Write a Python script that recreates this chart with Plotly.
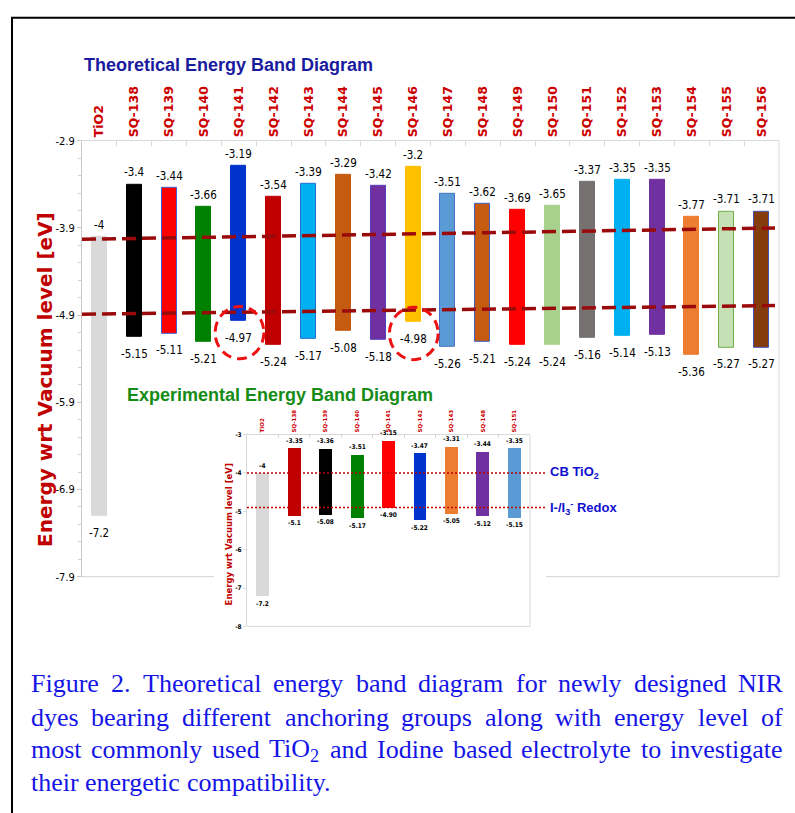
import plotly.graph_objects as go

W, H = 795, 813

# ---------------- data: theoretical (main) ----------------
categories = ["TiO2", "SQ-138", "SQ-139", "SQ-140", "SQ-141", "SQ-142", "SQ-143", "SQ-144",
              "SQ-145", "SQ-146", "SQ-147", "SQ-148", "SQ-149", "SQ-150", "SQ-151", "SQ-152",
              "SQ-153", "SQ-154", "SQ-155", "SQ-156"]
lumo = [-4, -3.4, -3.44, -3.66, -3.19, -3.54, -3.39, -3.29, -3.42, -3.2,
        -3.51, -3.62, -3.69, -3.65, -3.37, -3.35, -3.35, -3.77, -3.71, -3.71]
homo = [-7.2, -5.15, -5.11, -5.21, -4.97, -5.24, -5.17, -5.08, -5.18, -4.98,
        -5.26, -5.21, -5.24, -5.24, -5.16, -5.14, -5.13, -5.36, -5.27, -5.27]
bar_colors = ["#d9d9d9", "#000000", "#ff0000", "#008000", "#0033cc", "#c00000", "#00b0f0", "#c55a11",
              "#7030a0", "#ffc000", "#5b9bd5", "#c55a11", "#ff0000", "#a9d18e", "#767171", "#00b0f0",
              "#7030a0", "#ed7d31", "#c5e0b4", "#843c0c"]
bar_outline = ["#d9d9d9", "#000000", "#4060d0", "#008000", "#0033cc", "#c00000", "#2070d0", "#c55a11",
               "#5040c0", "#ffc000", "#4472c4", "#4060c0", "#ff0000", "#a9d18e", "#767171", "#00b0f0",
               "#7030a0", "#ed7d31", "#70ad47", "#4050b0"]
y_ticks = [-2.9, -3.9, -4.9, -5.9, -6.9, -7.9]
cb_line = [-4.03, -3.90]      # CB TiO2 guide, left end / right end
redox_line = [-4.89, -4.79]   # I-/I3- redox guide, left end / right end
highlight = ["SQ-141", "SQ-146"]

# ---------------- data: experimental (inset) ----------------
exp_categories = ["TiO2", "SQ-138", "SQ-139", "SQ-140", "SQ-141", "SQ-142", "SQ-143", "SQ-148", "SQ-151"]
exp_lumo = [-4, -3.35, -3.36, -3.51, -3.15, -3.47, -3.31, -3.44, -3.35]
exp_homo = [-7.2, -5.1, -5.08, -5.17, -4.90, -5.22, -5.05, -5.12, -5.15]
exp_lumo_text = ["-4", "-3.35", "-3.36", "-3.51", "-3.15", "-3.47", "-3.31", "-3.44", "-3.35"]
exp_homo_text = ["-7.2", "-5.1", "-5.08", "-5.17", "-4.90", "-5.22", "-5.05", "-5.12", "-5.15"]
exp_colors = ["#d9d9d9", "#c00000", "#000000", "#008000", "#ff0000", "#0033cc", "#ed7d31", "#7030a0", "#5b9bd5"]
exp_y_ticks = [-3, -4, -5, -6, -7, -8]
exp_cb = -4.0
exp_redox = -4.9

caption_lines = [
    "Figure 2. Theoretical energy band diagram for newly designed NIR",
    "dyes bearing different anchoring groups along with energy level of",
    "most commonly used TiO<sub>2</sub> and Iodine based electrolyte to investigate",
    "their energetic compatibility.",
]


def px(x):
    return x / W


def py(y):
    return 1 - y / H


NARROW = "Liberation Sans Narrow, Arial Narrow, DejaVu Sans Condensed, Liberation Sans, sans-serif"
WIDE = "DejaVu Sans, Verdana, sans-serif"
ARIAL = "Liberation Sans, Arial, sans-serif"
SERIF = "Liberation Serif, Times New Roman, serif"

fig = go.Figure()

fig.add_trace(go.Bar(
    x=categories, y=[h - l for h, l in zip(homo, lumo)], base=lumo, width=0.43,
    marker=dict(color=bar_colors, line=dict(color=bar_outline, width=1)),
    xaxis="x", yaxis="y", hoverinfo="skip", showlegend=False))

fig.add_trace(go.Bar(
    x=exp_categories, y=[h - l for h, l in zip(exp_homo, exp_lumo)], base=exp_lumo, width=0.41,
    marker=dict(color=exp_colors, line=dict(width=0)),
    xaxis="x2", yaxis="y2", hoverinfo="skip", showlegend=False))

annotations = []
for c, l, h in zip(categories, lumo, homo):
    annotations.append(dict(x=c, y=l, xref="x", yref="y", text=f"{l:g}", showarrow=False,
                            xanchor="center", yanchor="middle",
                            yshift=12, font=dict(family=NARROW, size=11.5, color="black")))
    annotations.append(dict(x=c, y=h, xref="x", yref="y", text=f"{h:g}", showarrow=False,
                            xanchor="center", yanchor="middle",
                            yshift=-17, font=dict(family=NARROW, size=11.5, color="black")))
for c, l, h, lt, ht in zip(exp_categories, exp_lumo, exp_homo, exp_lumo_text, exp_homo_text):
    annotations.append(dict(x=c, y=l, xref="x2", yref="y2", text=f"<b>{lt}</b>", showarrow=False,
                            xanchor="center", yanchor="middle",
                            yshift=7, font=dict(family=NARROW, size=6.5, color="black")))
    annotations.append(dict(x=c, y=h, xref="x2", yref="y2", text=f"<b>{ht}</b>", showarrow=False,
                            xanchor="center", yanchor="middle",
                            yshift=-8, font=dict(family=NARROW, size=6.5, color="black")))

# titles
annotations.append(dict(x=px(82), y=py(60), xref="paper", yref="paper", xanchor="left", yanchor="middle",
                        text="<b>Theoretical Energy Band Diagram</b>", showarrow=False,
                        font=dict(family=ARIAL, size=18, color="#1a1a9e")))
annotations.append(dict(x=px(125), y=py(395), xref="paper", yref="paper", xanchor="left", yanchor="middle",
                        text="<b>Experimental Energy Band Diagram</b>", showarrow=False,
                        font=dict(family=ARIAL, size=18, color="#158c15")))
annotations.append(dict(x=px(45), y=py(380), xref="paper", yref="paper", textangle=-90,
                        xanchor="center", yanchor="middle",
                        text="<b>Energy wrt Vacuum level [eV]</b>", showarrow=False,
                        font=dict(family=WIDE, size=20, color="#c00000")))
annotations.append(dict(x=px(229), y=py(537), xref="paper", yref="paper", textangle=-90,
                        xanchor="center", yanchor="middle",
                        text="<b>Energy wrt Vacuum level [eV]</b>", showarrow=False,
                        font=dict(family=WIDE, size=8.5, color="#c00000")))
annotations.append(dict(x=px(548), y=py(474), xref="paper", yref="paper", xanchor="left", yanchor="middle",
                        text="<b>CB TiO<sub>2</sub></b>", showarrow=False,
                        font=dict(family=ARIAL, size=13, color="#1010d0")))
annotations.append(dict(x=px(548), y=py(510), xref="paper", yref="paper", xanchor="left", yanchor="middle",
                        text="<b>I-/I<sub>3</sub><sup>-</sup> Redox</b>", showarrow=False,
                        font=dict(family=ARIAL, size=13, color="#1010d0")))

# caption (justified, word by word)
TW = {'a': .444, 'b': .5, 'c': .444, 'd': .5, 'e': .444, 'f': .333, 'g': .5, 'h': .5, 'i': .278,
      'j': .278, 'k': .5, 'l': .278, 'm': .778, 'n': .5, 'o': .5, 'p': .5, 'q': .5, 'r': .333,
      's': .389, 't': .278, 'u': .5, 'v': .5, 'w': .722, 'x': .5, 'y': .5, 'z': .444,
      'F': .556, 'I': .333, 'N': .722, 'R': .667, 'T': .611, 'O': .722, '.': .25, ' ': .25}
CAP_SIZE = 26


def word_width(wd):
    if "<sub>" in wd:
        main, rest = wd.split("<sub>")
        sub = rest.split("</sub>")[0]
        tot = sum(TW.get(ch, .5) for ch in main) + 0.7 * sum(TW.get(ch, .5) for ch in sub)
    else:
        tot = sum(TW.get(ch, .5) for ch in wd)
    return tot * CAP_SIZE


cap_left, cap_right = 30, 782
cap_y = [689, 723, 756, 789]
for li, line in enumerate(caption_lines):
    words = line.split(" ")
    widths = [word_width(w) for w in words]
    if li < len(caption_lines) - 1:
        gap = (cap_right - cap_left - sum(widths)) / (len(words) - 1)
    else:
        gap = TW[' '] * CAP_SIZE
    xpos = cap_left
    for wd, ww in zip(words, widths):
        annotations.append(dict(
            x=px(xpos), y=py(cap_y[li]), xref="paper", yref="paper",
            xanchor="left", yanchor="middle", text=wd, showarrow=False,
            borderpad=0, font=dict(family=SERIF, size=CAP_SIZE, color="#1414e6")))
        xpos += ww + gap

shapes = []
# outer frame
shapes.append(dict(type="rect", xref="paper", yref="paper", x0=px(12), x1=px(805), y0=py(12), y1=py(825),
                   line=dict(color="black", width=2), fillcolor="rgba(0,0,0,0)"))
# main plot right and bottom border (bottom interrupted by inset picture)
shapes.append(dict(type="line", xref="paper", yref="paper", x0=px(779), x1=px(779), y0=py(137), y1=py(580),
                   line=dict(color="#d9d9d9", width=1)))
shapes.append(dict(type="line", xref="paper", yref="paper", x0=px(82), x1=px(214), y0=py(580), y1=py(580),
                   line=dict(color="#d0d0d0", width=1)))
shapes.append(dict(type="line", xref="paper", yref="paper", x0=px(546), x1=px(779), y0=py(580), y1=py(580),
                   line=dict(color="#d0d0d0", width=1)))
# inset right and bottom border
shapes.append(dict(type="line", xref="paper", yref="paper", x0=px(530), x1=px(530), y0=py(435.5), y1=py(630.5),
                   line=dict(color="#d9d9d9", width=1)))
shapes.append(dict(type="line", xref="paper", yref="paper", x0=px(247), x1=px(530), y0=py(630.5), y1=py(630.5),
                   line=dict(color="#d9d9d9", width=1)))
# theoretical guide lines
for ln in (cb_line, redox_line):
    shapes.append(dict(type="line", xref="paper", yref="y", x0=px(82), x1=px(775), y0=ln[0], y1=ln[1],
                       line=dict(color="#9b0a0a", width=3.5, dash="14px,6px")))
# experimental guide lines
for lv in (exp_cb, exp_redox):
    shapes.append(dict(type="line", xref="paper", yref="y2", x0=px(247), x1=px(545), y0=lv, y1=lv,
                       line=dict(color="#c00000", width=1.5, dash="2px,2px")))
# highlight circles
for name in highlight:
    i = categories.index(name)
    cy = homo[i] - 0.13
    shapes.append(dict(type="circle", xref="x", yref="y", x0=i - 0.68, x1=i + 0.72,
                       y0=cy - 0.30, y1=cy + 0.30,
                       line=dict(color="#ee1111", width=3, dash="10px,6px")))

fig.update_layout(
    width=W, height=H, margin=dict(l=0, r=0, t=0, b=0),
    paper_bgcolor="white", plot_bgcolor="rgba(0,0,0,0)",
    showlegend=False, bargap=0,
    xaxis=dict(domain=[px(82), px(779)], side="top", type="category", anchor="y",
               tickangle=-90, tickfont=dict(family=WIDE, size=12.5, color="#cc0000", weight="bold"),
               showline=True, linecolor="#d9d9d9", linewidth=1, ticks="inside", tickson="boundaries",
               ticklen=5, tickcolor="#d9d9d9", showgrid=False, zeroline=False, fixedrange=True),
    yaxis=dict(domain=[py(580), py(137)], range=[-7.9, -2.9], anchor="x",
               tickvals=y_ticks, ticktext=[f"{v:g}" for v in y_ticks],
               tickfont=dict(family=NARROW, size=11, color="black"),
               showline=True, linecolor="#c8c8c8", linewidth=1, ticks="outside", ticklen=4,
               tickcolor="#c8c8c8",
               minor=dict(dtick=0.2, tick0=-2.9, ticks="outside", ticklen=3, tickcolor="#d0d0d0"),
               showgrid=False, zeroline=False, fixedrange=True),
    xaxis2=dict(domain=[px(247), px(530)], side="top", type="category", anchor="y2",
                tickangle=-90, tickfont=dict(family=WIDE, size=5.5, color="#cc0000", weight="bold"),
                showline=True, linecolor="#d9d9d9", linewidth=1, ticks="inside", tickson="boundaries",
                ticklen=3, tickcolor="#d9d9d9", showgrid=False, zeroline=False, fixedrange=True),
    yaxis2=dict(domain=[py(630.5), py(435.5)], range=[-8, -3], anchor="x2",
                tickvals=exp_y_ticks, ticktext=[f"{v:g}" for v in exp_y_ticks],
                tickfont=dict(family=NARROW, size=6.5, color="black", weight="bold"),
                showline=True, linecolor="#d9d9d9", linewidth=1, ticks="outside", ticklen=3,
                tickcolor="#d9d9d9", showgrid=False, zeroline=False, fixedrange=True),
    annotations=annotations, shapes=shapes,
)

fig.write_html("out.html", config={"displayModeBar": False},
               post_script="document.body.style.margin='0';document.body.style.overflow='hidden';")
